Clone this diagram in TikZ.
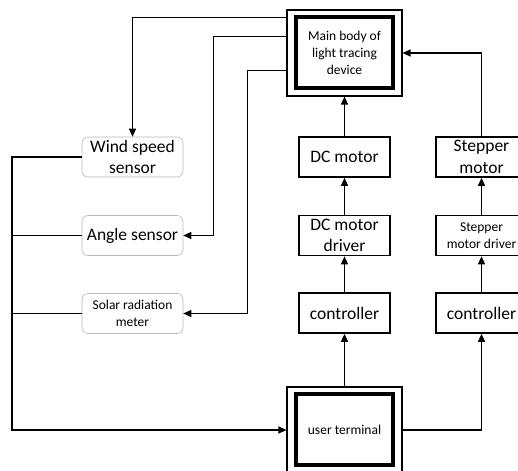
\documentclass[tikz,border=0pt]{standalone}
\usepackage{fontspec}
\setmainfont{Carlito}
\usetikzlibrary{arrows.meta}

\newcommand{\boxfont}{\fontsize{17.5}{21.5}\selectfont}
\newcommand{\notefont}{\fontsize{13.5}{17}\selectfont}

\begin{document}
\begin{tikzpicture}[x=1pt, y=-1pt,
  box/.style = {draw, line width=1.6pt, minimum width=91pt, minimum height=40pt, inner sep=1pt, align=center, font=\boxfont},
  sensor/.style = {draw=gray!55, line width=0.6pt, rounded corners=6pt, minimum width=101pt, minimum height=40pt, inner sep=1pt, align=center, font=\boxfont},
  frame/.style = {draw, line width=1.1pt, minimum width=115pt, minimum height=86pt, inner sep=1pt, align=center, font=\notefont},
  arr/.style = {line width=1.2pt, -{Triangle[length=8pt,width=7pt]}},
  wire/.style = {line width=1.2pt}]
\useasboundingbox (0,0) rectangle (518,470);

\node[frame] (main) at (344.5,53) {Main body of\\light tracing\\device};
\node[frame] (user) at (344.5,430) {user terminal};
\draw[line width=4pt] ([shift={(10pt,-8pt)}]main.north west) rectangle ([shift={(-10pt,9pt)}]main.south east);
\draw[line width=4pt] ([shift={(10pt,-8pt)}]user.north west) rectangle ([shift={(-10pt,9pt)}]user.south east);

\node[box] (dc)     at (344.5,157)   {DC motor};
\node[box] (dcdrv)  at (344.5,235.5) {DC motor\\driver};
\node[box] (ctrla)  at (344.5,313)   {controller};
\node[box] (stp)    at (481.5,157)   {Stepper\\motor};
\node[box, font=\notefont] (stpdrv) at (481.5,235.5) {Stepper\\motor driver};
\node[box] (ctrlb)  at (481.5,313)   {controller};

\node[sensor] (wind)  at (132.5,157)   {Wind speed\\sensor};
\node[sensor] (angle) at (132.5,235.5) {Angle sensor};
\node[sensor, font=\notefont] (solar) at (132.5,313.5) {Solar radiation\\meter};

\coordinate (bus) at (12,0);

% motor chains
\draw[arr] (dc) -- (main);
\draw[arr] (dcdrv) -- (dc);
\draw[arr] (ctrla) -- (dcdrv);
\draw[arr] (user) -- (ctrla);
\draw[arr] (stpdrv) -- (stp);
\draw[arr] (ctrlb) -- (stpdrv);
\draw[arr] (stp.north) |- (main.east);
\draw[arr] (user.east) -| (ctrlb.south);

% sensors
\draw[arr] ([yshift=-8pt]main.north west) -| (wind.north);
\draw[arr] ([yshift=-27pt]main.north west) -| ([xshift=30pt]angle.east) -- (angle.east);
\draw[arr] ([yshift=-61pt]main.north west) -| ([xshift=64pt]solar.east) -- (solar.east);
\draw[arr] (wind.west) -- (wind.west -| bus) |- (user.west);
\draw[wire] (angle.west) -- (angle.west -| bus);
\draw[wire] (solar.west) -- (solar.west -| bus);
\end{tikzpicture}
\end{document}
